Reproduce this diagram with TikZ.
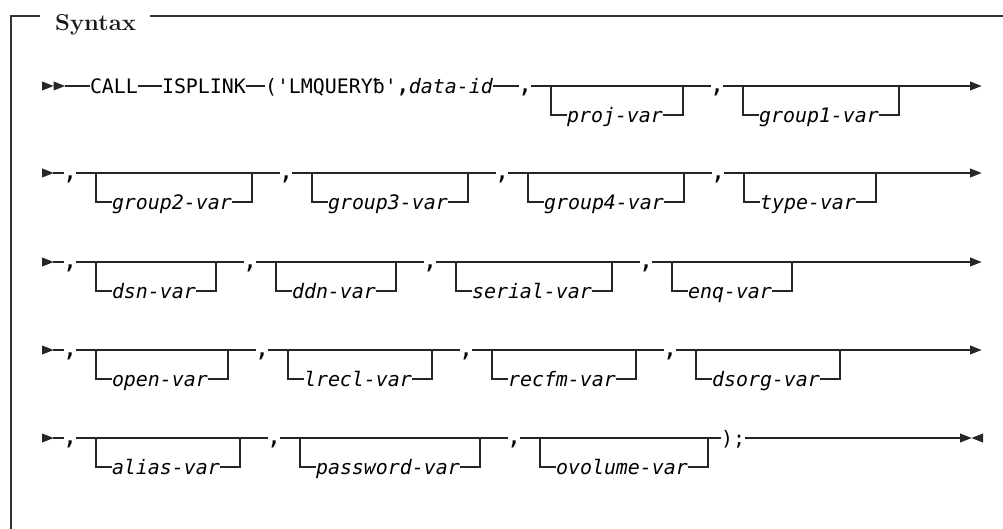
\documentclass[tikz,border=0pt]{standalone}
\usepackage{fontspec}
\newfontfamily\mono{DejaVu Sans Mono}
\usetikzlibrary{calc}
\tikzset{
  ln/.style={line width=1.1pt, draw=black!85},
  frame/.style={line width=1.3pt, draw=black!80},
  tx/.style={inner sep=0pt, outer sep=0pt, text height=14.6pt, text depth=0pt, anchor=west,
    font=\mono\fontsize{19.93pt}{24pt}\selectfont, text=black},
  vr/.style={tx, font=\mono\itshape\fontsize{19.93pt}{24pt}\selectfont},
  ttl/.style={inner sep=0pt, anchor=base west, font=\fontsize{23pt}{27pt}\selectfont\bfseries, text=black!90},
}
\newcommand\cm{\makebox[12pt]{\raisebox{1.2pt}{\scalebox{1.25}{,}}}}
\newcommand\rtri[1]{\fill[black!85] (#1) ++(0,-4.6) -- ++(11.5,4.6) -- ++(-11.5,4.6) -- cycle;}
\newcommand\ltri[1]{\fill[black!85] (#1) ++(0,-4.6) -- ++(-11.5,4.6) -- ++(11.5,4.6) -- cycle;}
\newcommand\brk[2]{%
  \draw[ln] ([xshift=-16pt]#1.west |- #2.east) |- (#1.west);
  \draw[ln] (#1.east) -| ([xshift=20pt]#1.east |- #2.east);}
\begin{document}
\begin{tikzpicture}[x=1pt,y=-1pt]
\useasboundingbox (0,0) rectangle (1003,529);
% frame
\coordinate (fr0) at (11,529);
\coordinate (fr1) at (11,16);
\coordinate (fr2) at (40,16);
\coordinate (fr3) at (150,16);
\coordinate (fr4) at (1003,16);
\node[ttl] (title) at (55,31) {\scalebox{1.035}[1]{Syntax}};
\draw[frame] (fr0) -- (fr1) -- (fr2);
\draw[frame] (fr3) -- (fr4);

% ---------- row 1 ----------
\coordinate (s1a) at (42,86);
\coordinate (s1b) at (53.5,86);
\coordinate (r1a) at (65,86);
\rtri{s1a}\rtri{s1b}
\node[tx] (call) at (90,86) {CALL};
\node[tx] (isp) at (162,86) {ISPLINK};
\node[tx] (lmq) at (265,86) {('LMQUERYƀ'\cm{\itshape data-id}};
\node[tx] (c11) at (519,86) {\cm};
\node[vr] (v11) at (567,115) {proj-var};
\node[tx] (c12) at (711,86) {\cm};
\node[vr] (v12) at (759,115) {group1-var};
\coordinate (e1) at (970,86);
\draw[ln] (r1a) -- (call.west) (call.east) -- (isp.west) (isp.east) -- (lmq.west)
  (lmq.east) -- (c11.west) (c11.east) -- (c12.west) (c12.east) -- (e1);
\brk{v11}{c11}\brk{v12}{c12}
\rtri{e1}

% ---------- row 2 ----------
\coordinate (s2) at (42,173);
\coordinate (r2a) at (53,173);
\rtri{s2}
\node[tx] (c21) at (64,173) {\cm};
\node[vr] (v21) at (112,202) {group2-var};
\node[tx] (c22) at (280,173) {\cm};
\node[vr] (v22) at (328,202) {group3-var};
\node[tx] (c23) at (496,173) {\cm};
\node[vr] (v23) at (544,202) {group4-var};
\node[tx] (c24) at (712,173) {\cm};
\node[vr] (v24) at (760,202) {type-var};
\coordinate (e2) at (970,173);
\draw[ln] (r2a) -- (c21.west) (c21.east) -- (c22.west) (c22.east) -- (c23.west)
  (c23.east) -- (c24.west) (c24.east) -- (e2);
\brk{v21}{c21}\brk{v22}{c22}\brk{v23}{c23}\brk{v24}{c24}
\rtri{e2}

% ---------- row 3 ----------
\coordinate (s3) at (42,262);
\coordinate (r3a) at (53,262);
\rtri{s3}
\node[tx] (c31) at (64,262) {\cm};
\node[vr] (v31) at (112,291) {dsn-var};
\node[tx] (c32) at (244,262) {\cm};
\node[vr] (v32) at (292,291) {ddn-var};
\node[tx] (c33) at (424,262) {\cm};
\node[vr] (v33) at (472,291) {serial-var};
\node[tx] (c34) at (640,262) {\cm};
\node[vr] (v34) at (688,291) {enq-var};
\coordinate (e3) at (970,262);
\draw[ln] (r3a) -- (c31.west) (c31.east) -- (c32.west) (c32.east) -- (c33.west)
  (c33.east) -- (c34.west) (c34.east) -- (e3);
\brk{v31}{c31}\brk{v32}{c32}\brk{v33}{c33}\brk{v34}{c34}
\rtri{e3}

% ---------- row 4 ----------
\coordinate (s4) at (42,350);
\coordinate (r4a) at (53,350);
\rtri{s4}
\node[tx] (c41) at (64,350) {\cm};
\node[vr] (v41) at (112,379) {open-var};
\node[tx] (c42) at (256,350) {\cm};
\node[vr] (v42) at (304,379) {lrecl-var};
\node[tx] (c43) at (460,350) {\cm};
\node[vr] (v43) at (508,379) {recfm-var};
\node[tx] (c44) at (664,350) {\cm};
\node[vr] (v44) at (712,379) {dsorg-var};
\coordinate (e4) at (970,350);
\draw[ln] (r4a) -- (c41.west) (c41.east) -- (c42.west) (c42.east) -- (c43.west)
  (c43.east) -- (c44.west) (c44.east) -- (e4);
\brk{v41}{c41}\brk{v42}{c42}\brk{v43}{c43}\brk{v44}{c44}
\rtri{e4}

% ---------- row 5 ----------
\coordinate (s5) at (42,438);
\coordinate (r5a) at (53,438);
\rtri{s5}
\node[tx] (c51) at (64,438) {\cm};
\node[vr] (v51) at (112,467) {alias-var};
\node[tx] (c52) at (268,438) {\cm};
\node[vr] (v52) at (316,467) {password-var};
\node[tx] (c53) at (508,438) {\cm};
\node[vr] (v53) at (556,467) {ovolume-var};
\node[tx] (end) at (721,438) {);};
\coordinate (e5) at (960,438);
\coordinate (e5b) at (983,438);
\draw[ln] (r5a) -- (c51.west) (c51.east) -- (c52.west) (c52.east) -- (c53.west)
  (c53.east) -- (end.west) (end.east) -- (e5);
\brk{v51}{c51}\brk{v52}{c52}\brk{v53}{c53}
\rtri{e5}\ltri{e5b}
\end{tikzpicture}
\end{document}
